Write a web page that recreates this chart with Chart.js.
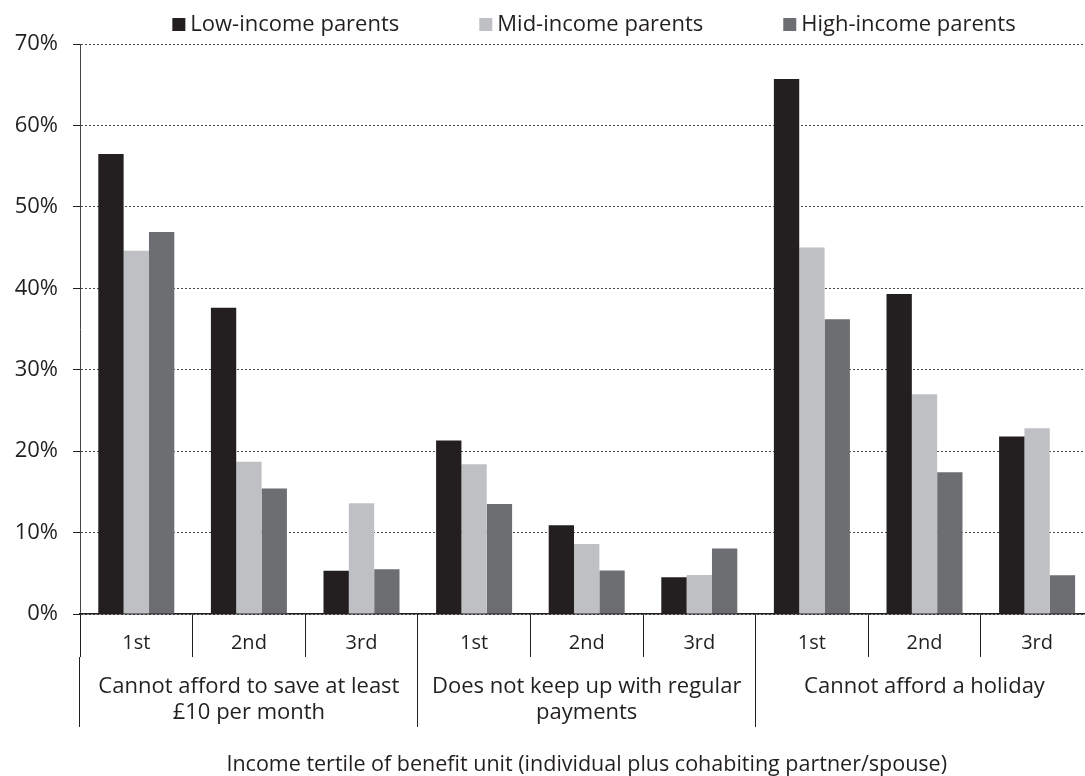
<!DOCTYPE html>
<html>
<head>
<meta charset="utf-8">
<script src="https://cdn.jsdelivr.net/npm/chart.js@4/dist/chart.umd.min.js"></script>
<style>
    html, body { margin: 0; padding: 0; background: #fff; overflow: hidden; }
    #wrap { width: 1100px; height: 776px; }
</style>
</head>
<body>
<div id="wrap"><canvas id="deprivationChart" width="1100" height="776"></canvas></div>
<script>
// ===================== DATA =====================
const tertiles = ['1st', '2nd', '3rd', '1st', '2nd', '3rd', '1st', '2nd', '3rd'];
const groupLabels = [
    ['Cannot afford to save at least', '£10 per month'],
    ['Does not keep up with regular', 'payments'],
    ['Cannot afford a holiday']
];
const seriesNames = ['Low-income parents', 'Mid-income parents', 'High-income parents'];
const lowIncome  = [56.5, 37.6, 5.3, 21.3, 10.9, 4.5, 65.7, 39.3, 21.8];
const midIncome  = [44.6, 18.7, 13.6, 18.4, 8.6, 4.8, 45.0, 27.0, 22.8];
const highIncome = [46.9, 15.4, 5.5, 13.5, 5.35, 8.05, 36.2, 17.4, 4.75];
const yTicks = [0, 10, 20, 30, 40, 50, 60, 70];
const xTitle = 'Income tertile of benefit unit (individual plus cohabiting partner/spouse)';

const INK = '#231f20';
const FONT = "'Open Sans', sans-serif";

// Legend drawn above the chart area (squares sit right next to the text)
const topLegend = {
    id: 'topLegend',
    afterDraw(chart) {
        const ctx = chart.ctx;
        const sets = chart.data.datasets;
        const box = 13, gap = 5, itemGap = 80;
        ctx.save();
        ctx.font = '22px ' + FONT;
        ctx.textBaseline = 'alphabetic';
        ctx.textAlign = 'left';
        const widths = sets.map(ds => box + gap + ctx.measureText(ds.label).width);
        const total = widths.reduce((a, b) => a + b, 0) + itemGap * (sets.length - 1);
        let x = 594 - total / 2;
        const baseline = 31;
        sets.forEach((ds, i) => {
            ctx.fillStyle = ds.backgroundColor;
            ctx.fillRect(x, baseline - box, box, box);
            ctx.fillStyle = INK;
            ctx.fillText(ds.label, x + box + gap, baseline);
            x += widths[i] + itemGap;
        });
        ctx.restore();
    }
};

const ctx = document.getElementById('deprivationChart').getContext('2d');
const chart = new Chart(ctx, {
    type: 'bar',
    data: {
        labels: tertiles,
        datasets: [
            { label: seriesNames[0], data: lowIncome,  backgroundColor: INK },
            { label: seriesNames[1], data: midIncome,  backgroundColor: '#bfc0c3' },
            { label: seriesNames[2], data: highIncome, backgroundColor: '#6d6e71' }
        ]
    },
    options: {
        responsive: false,
        devicePixelRatio: 1,
        animation: false,
        layout: { padding: { top: 44, right: 6.6, bottom: 0, left: 0 } },
        datasets: {
            bar: { categoryPercentage: 0.675, barPercentage: 1, borderWidth: 0 }
        },
        plugins: {
            legend: { display: false },
            tooltip: { enabled: false }
        },
        scales: {
            y: {
                min: 0,
                max: 70,
                afterBuildTicks: s => { s.ticks = yTicks.map(v => ({ value: v })); },
                afterFit: s => { s.width = 80; },
                ticks: {
                    padding: 15,
                    color: INK,
                    font: { family: FONT, size: 22 },
                    callback: v => v + '%'
                },
                grid: {
                    color: '#4a4a4a',
                    lineWidth: 1,
                    tickLength: 7,
                    tickColor: INK
                },
                border: { display: true, color: '#444', width: 1, dash: [2, 2] }
            },
            x: {
                offset: true,
                afterFit: s => { s.height = 43; },
                ticks: {
                    padding: -26,
                    color: INK,
                    maxRotation: 0,
                    autoSkip: false,
                    font: { family: FONT, size: 20, lineHeight: 1.2 }
                },
                grid: {
                    offset: true,
                    drawOnChartArea: false,
                    tickLength: 43,
                    color: INK,
                    lineWidth: 1
                },
                border: { display: true, color: INK, width: 1.5 }
            },
            x2: {
                type: 'category',
                position: 'bottom',
                labels: groupLabels,
                offset: true,
                afterFit: s => { s.height = 119; },
                ticks: {
                    padding: -53,
                    color: INK,
                    maxRotation: 0,
                    autoSkip: false,
                    font: { family: FONT, size: 22, lineHeight: 26 / 22 }
                },
                grid: {
                    offset: true,
                    drawOnChartArea: false,
                    tickLength: 70,
                    color: INK,
                    lineWidth: 1
                },
                border: { display: false },
                title: {
                    display: true,
                    text: xTitle,
                    color: INK,
                    padding: { top: 0, bottom: 0 },
                    font: { family: FONT, size: 21.5, lineHeight: 1 }
                }
            }
        }
    },
    plugins: [topLegend]
});
</script>
</body>
</html>
